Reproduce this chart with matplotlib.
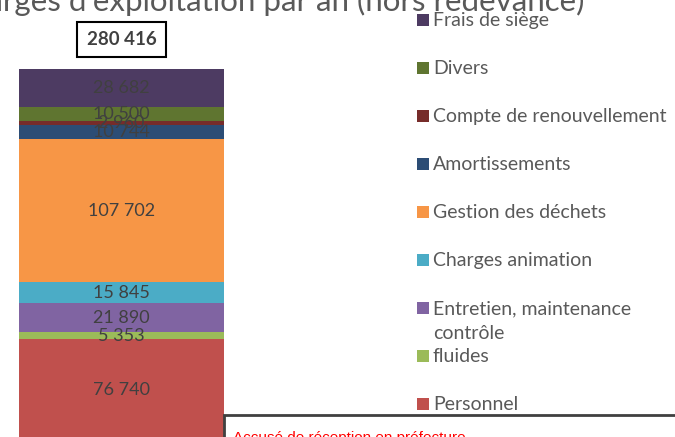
import matplotlib.pyplot as plt
from matplotlib.patches import Rectangle

# categories, bottom to top
categories = ['Personnel', 'fluides', 'Entretien, maintenance\ncontrôle',
              'Charges animation', 'Gestion des déchets', 'Amortissements',
              'Compte de renouvellement', 'Divers', 'Frais de siège']
values = [76740, 5353, 21890, 15845, 107702, 10744, 2960, 10500, 28682]
labels = ['76 740', '5 353', '21 890', '15 845', '107 702', '10 744', '2 960', '10 500', '28 682']
total_label = '280 416'
colors = ['#C0504D', '#9BBB59', '#8064A2', '#4BACC6', '#F79646',
          '#2C4D75', '#772C2A', '#5F7530', '#4D3B62']

W, H = 675, 437
plt.rcParams['font.family'] = ['Lato', 'DejaVu Sans']
fig = plt.figure(figsize=(W / 100, H / 100), dpi=100)

# axes placed so the bar spans px x 19..224, y 69..441 (from top)
ax = fig.add_axes([19 / W, (H - 441) / H, (224 - 19) / W, (441 - 69) / H])
ax.set_xlim(-0.5, 0.5)
ax.set_ylim(0, sum(values))
ax.axis('off')

bottom = 0
for v, c, lab in zip(values, colors, labels):
    ax.bar(0, v, width=1.0, bottom=bottom, color=c, linewidth=0)
    ax.text(0, bottom + v / 2, lab, ha='center', va='center',
            fontsize=13, color='#404040')
    bottom += v

# total box above bar
fig.text(121.5 / W, 1 - 39.5 / H, total_label, ha='center', va='center',
         fontsize=13.5, fontweight='bold', color='#404040',
         bbox=dict(boxstyle='square,pad=0.5', fc='white', ec='black', lw=1.5))

# title (cut at the top of the screenshot)
fig.text(584 / W, 1 - 11 / H, "Charges d'exploitation par an (hors redevance)",
         ha='right', va='baseline', fontsize=22.5, color='#595959')

# legend drawn by hand, top entry first
for i, (lab, c) in enumerate(zip(categories[::-1], colors[::-1])):
    yc = 20 + 48 * i
    fig.patches.append(Rectangle((417 / W, 1 - (yc + 6) / H), 12 / W, 12 / H,
                                 transform=fig.transFigure, fc=c, ec='none'))
    fig.text(433 / W, 1 - (yc - 8) / H, lab, ha='left', va='top',
             fontsize=14, color='#595959', linespacing=1.55)

# stamp box in the corner
fig.patches.append(Rectangle((224 / W, -10 / H), 460 / W, (10 + 22) / H,
                             transform=fig.transFigure, fc='white', ec='#404040', lw=2))
fig.text(233 / W, 1 - 442 / H, 'Accusé de réception en préfecture',
         ha='left', va='baseline', fontsize=11, color='red',
         family=['Liberation Sans'])

fig.savefig('out.png', dpi=100)
